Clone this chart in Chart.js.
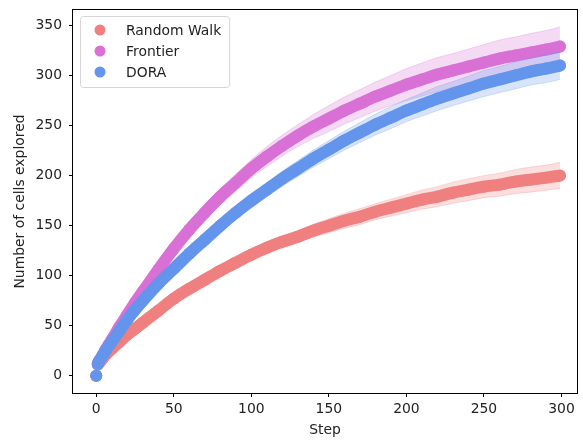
<!DOCTYPE html>
<html lang="en">
  <head>
    <meta charset="UTF-8" />
    <title>Cells explored per step</title>
    <script src="https://cdn.jsdelivr.net/npm/chart.js"></script>
    <style>
      html, body { margin: 0; padding: 0; background: #fff; }
      #wrap { width: 583px; height: 440px; }
    </style>
  </head>
  <body>
    <div id="wrap"><canvas id="chart" width="583" height="440"></canvas></div>

    <script>
      // -------- values -------- //
      const steps = [0, 1, 2, 4, 6, 8, 10, 15, 20, 25, 30,
        40, 50, 60, 70, 80, 90, 100, 110, 120, 130, 140, 150, 160, 170, 180, 190,
        200, 210, 220, 230, 240, 250, 260, 270, 280, 290, 299];

      const rwMean = [0, 11, 13, 17, 21, 24, 27, 34, 41, 47, 53,
        65, 77, 87, 96, 105, 113, 121, 128, 134, 139, 145, 150, 155, 159, 164, 168,
        172, 176, 179, 183, 186, 189, 191, 194, 196, 198, 200];
      const rwSpread = [0, 0.5, 0.5, 1, 1, 1, 1.5, 1.5, 2, 2, 2.5,
        3, 3.5, 3.5, 4, 4.5, 5, 5, 5.5, 6, 6, 6.5, 7, 7.5, 8, 8, 8.5,
        9, 9.5, 10, 10.5, 11, 11, 11.5, 12, 12.5, 12.5, 13];

      const frontierMean = [0, 12, 15, 20, 26, 31, 36, 49, 61, 73, 84,
        106, 127, 146, 163, 179, 193, 207, 219, 230, 240, 249, 257, 265, 272, 279, 285,
        291, 296, 301, 305, 309, 313, 317, 320, 323, 326, 329];
      const frontierSpread = [0, 0.5, 1, 1.5, 2, 2, 2.5, 3, 3.5, 4, 4.5,
        5, 5.5, 6.5, 7, 8, 8.5, 9, 10, 10.5, 11, 12, 13, 13.5, 14, 14.5, 15,
        16, 16.5, 17, 17, 17.5, 18, 18.5, 18.5, 19, 19, 19.5];

      const doraMean = [0, 12, 15, 20, 25, 30, 34, 45, 56, 66, 75,
        92, 107, 122, 136, 150, 163, 175, 186, 197, 207, 217, 226, 235, 243, 251, 258,
        265, 271, 277, 282, 287, 292, 296, 300, 304, 307, 310];
      const doraSpread = [0, 0.5, 0.5, 1, 1, 1.5, 1.5, 2, 2.5, 3, 3,
        3.5, 4, 4.5, 5, 5.5, 6, 6.5, 7, 7.5, 8, 8.5, 9, 9.5, 10, 10.5, 11,
        11, 11.5, 12, 12, 12.5, 13, 13, 13.5, 13.5, 14, 14];

      const xTicks = [0, 50, 100, 150, 200, 250, 300];
      const yTicks = [0, 50, 100, 150, 200, 250, 300, 350];

      // -------- build datasets -------- //
      const pts = (ys, sign = 0, spread = null) =>
        steps.map((x, i) => ({ x, y: ys[i] + (spread ? sign * spread[i] : 0) }));

      function series(label, color, band, mean, spread, order) {
        return [
          {
            label,
            showInLegend: true,
            data: pts(mean),
            borderColor: color,
            backgroundColor: color,
            borderWidth: 12,
            borderCapStyle: "round",
            borderJoinStyle: "round",
            cubicInterpolationMode: "monotone",
            pointRadius: 6,
            pointBorderWidth: 0,
            pointBackgroundColor: color,
            fill: false,
            order: order + 1,
            // step 0 sits apart from the rest in the reference
            segment: { borderColor: (c) => (c.p0DataIndex === 0 ? "rgba(0,0,0,0)" : undefined) },
          },
          {
            label: label + " low",
            data: pts(mean, -1, spread),
            borderColor: band,
            borderWidth: 1,
            pointRadius: 0,
            cubicInterpolationMode: "monotone",
            fill: false,
            order,
          },
          {
            label: label + " high",
            data: pts(mean, 1, spread),
            borderColor: band,
            backgroundColor: band,
            borderWidth: 1,
            pointRadius: 0,
            cubicInterpolationMode: "monotone",
            fill: "-1",
            order,
          },
        ];
      }

      const datasets = [
        ...series("Random Walk", "#F08080", "rgba(240,128,128,0.26)", rwMean, rwSpread, 5),
        ...series("Frontier", "#DA70D6", "rgba(218,112,214,0.26)", frontierMean, frontierSpread, 3),
        ...series("DORA", "#6495ED", "rgba(100,149,237,0.26)", doraMean, doraSpread, 1),
      ];

      // -------- frame + legend drawn by hand -------- //
      const frame = {
        id: "frame",
        afterDatasetsDraw(chart) {
          const { ctx, chartArea: a } = chart;
          ctx.save();
          ctx.strokeStyle = "#000";
          ctx.lineWidth = 1;
          ctx.strokeRect(a.left - 0.5, a.top - 0.5, a.right - a.left + 1, a.bottom - a.top + 1);
          ctx.restore();
        },
      };

      const legendBox = {
        id: "legendBox",
        afterDraw(chart) {
          const ctx = chart.ctx;
          const items = chart.data.datasets.filter((d) => d.showInLegend);
          ctx.save();
          ctx.font = "13.9px 'DejaVu Sans'";
          const textW = Math.max(...items.map((d) => ctx.measureText(d.label).width));
          const x = 80, y = 16, w = 126 - x + textW + 8, h = 71, r = 3;
          ctx.beginPath();
          ctx.roundRect(x + 0.5, y + 0.5, w, h, r);
          ctx.fillStyle = "rgba(255,255,255,0.8)";
          ctx.fill();
          ctx.strokeStyle = "#d6d6d6";
          ctx.lineWidth = 1;
          ctx.stroke();
          ctx.textBaseline = "middle";
          items.forEach((d, i) => {
            const cy = 30 + i * 21;
            ctx.beginPath();
            ctx.arc(100, cy, 5.5, 0, Math.PI * 2);
            ctx.fillStyle = d.borderColor;
            ctx.fill();
            ctx.fillStyle = "#222";
            ctx.fillText(d.label, 126, cy + 1);
          });
          ctx.restore();
        },
      };

      const noPad = (s) => {
        s.paddingTop = 0;
        s.paddingBottom = 0;
        s.paddingLeft = 0;
        s.paddingRight = 0;
      };

      Chart.defaults.font.family = "'DejaVu Sans'";
      Chart.defaults.font.size = 13.9;
      Chart.defaults.color = "#222";

      new Chart(document.getElementById("chart"), {
        type: "line",
        data: { datasets },
        plugins: [frame, legendBox],
        options: {
          responsive: false,
          animation: false,
          devicePixelRatio: 1,
          layout: { padding: { top: 10, right: 1, left: 0, bottom: 0 } },
          plugins: { legend: { display: false }, tooltip: { enabled: false } },
          scales: {
            x: {
              type: "linear",
              min: -15,
              max: 310,
              afterBuildTicks: (s) => { s.ticks = xTicks.map((value) => ({ value })); },
              afterFit: (s) => { s.height = 47; noPad(s); },
              ticks: { padding: 4, maxRotation: 0 },
              grid: { drawOnChartArea: false, tickLength: 4, tickColor: "#000" },
              border: { display: false },
              title: { display: true, text: "Step", padding: { top: 0, bottom: 1 } },
            },
            y: {
              min: -17.2,
              max: 365.5,
              afterBuildTicks: (s) => { s.ticks = yTicks.map((value) => ({ value })); },
              afterFit: (s) => { s.width = 73; noPad(s); },
              ticks: { padding: 7 },
              grid: { drawOnChartArea: false, tickLength: 4, tickColor: "#000" },
              border: { display: false },
              title: { display: true, text: "Number of cells explored", padding: { top: 12, bottom: 0 } },
            },
          },
        },
      });
    </script>
  </body>
</html>
